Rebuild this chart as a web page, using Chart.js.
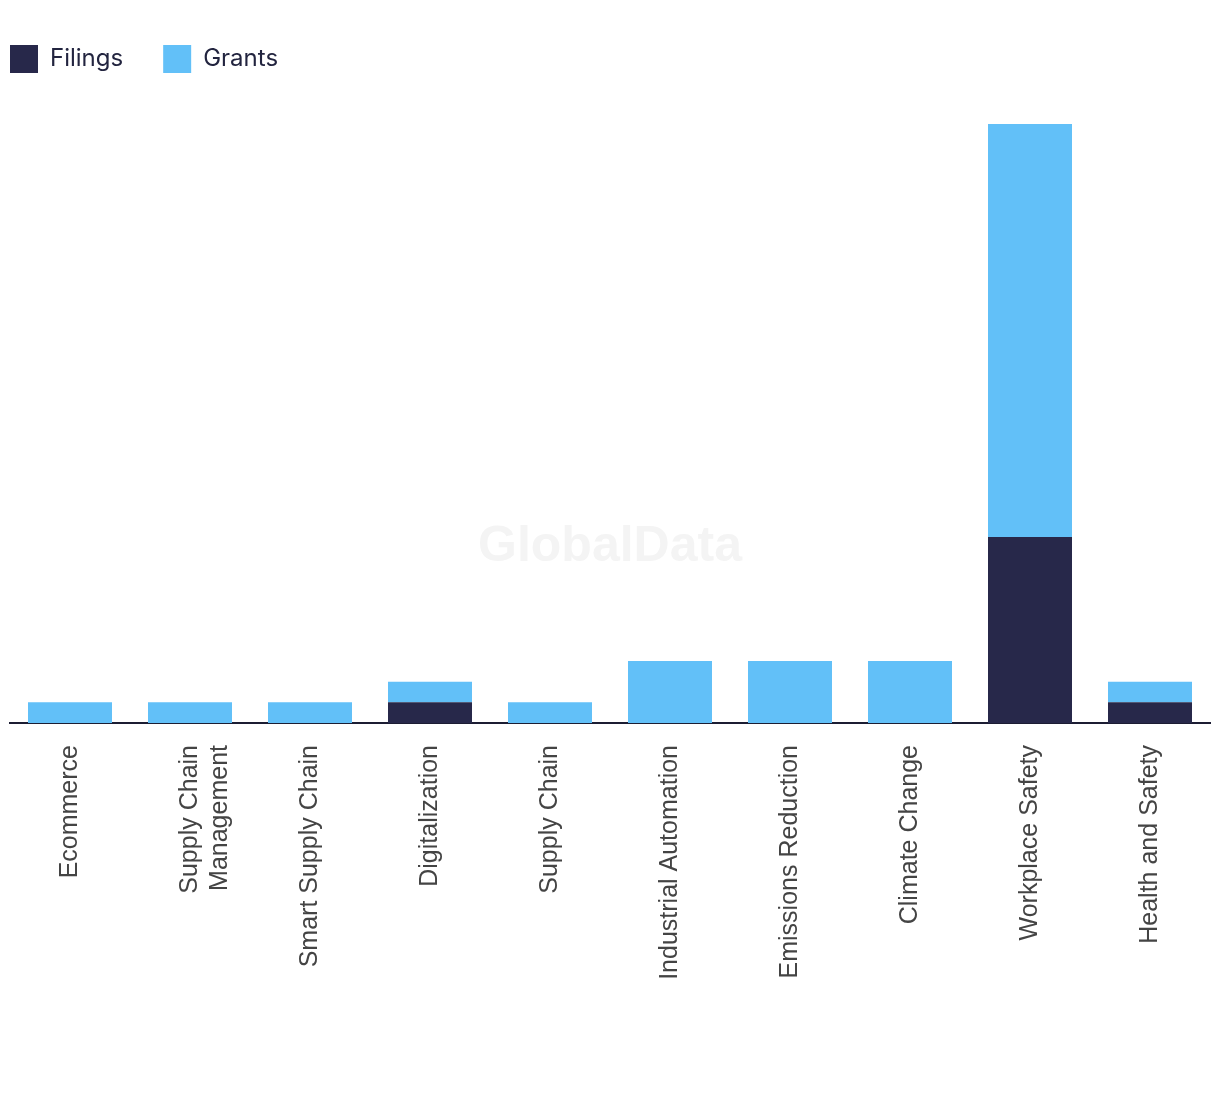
<!DOCTYPE html>
<html>
<head>
<meta charset="utf-8">
<script src="https://cdn.jsdelivr.net/npm/chart.js@4.4.1/dist/chart.umd.min.js"></script>
<style>
  html, body { margin: 0; padding: 0; background: #fff; }
  #wrap { width: 1220px; height: 1094px; position: relative; }
</style>
</head>
<body>
<div id="wrap"><canvas id="chart"></canvas></div>
<script>
const categories = [
    'Ecommerce',
    ['Supply Chain', 'Management'],
    'Smart Supply Chain',
    'Digitalization',
    'Supply Chain',
    'Industrial Automation',
    'Emissions Reduction',
    'Climate Change',
    'Workplace Safety',
    'Health and Safety'
];
const filings = [0, 0, 0, 1, 0, 0, 0, 0, 9, 1];
const grants = [1, 1, 1, 1, 1, 3, 3, 3, 20, 1];

const totals = filings.map((f, i) => f + grants[i]);
const yMax = Math.max(...totals);

const legendPad = 40;

// faint watermark behind the bars
const watermark = {
    id: 'watermark',
    beforeDatasetsDraw(chart) {
        const ctx = chart.ctx;
        ctx.save();
        ctx.font = 'bold 50px "Liberation Sans", Arial, sans-serif';
        ctx.fillStyle = '#f4f4f4';
        ctx.textAlign = 'center';
        ctx.textBaseline = 'middle';
        ctx.fillText('GlobalData', chart.width / 2, 547);
        ctx.restore();
    }
};

// fixed legend block height, and legend flush with the left edge
const legendFix = {
    id: 'legendFix',
    beforeInit(chart) {
        const fit = chart.legend.fit;
        chart.legend.fit = function () {
            fit.bind(chart.legend)();
            this.height = 124 - 5;
        };
    },
    afterLayout(chart) {
        chart.legend.left = 10 - legendPad;
    }
};

const ctx = document.getElementById('chart').getContext('2d');
const chart = new Chart(ctx, {
    type: 'bar',
    data: {
        labels: categories,
        datasets: [
            { label: 'Filings', data: filings, backgroundColor: '#27284a' },
            { label: 'Grants', data: grants, backgroundColor: '#62c0f8' }
        ]
    },
    options: {
        responsive: true,
        maintainAspectRatio: false,
        animation: false,
        layout: { padding: { top: 5, left: 10, right: 10, bottom: 0 } },
        datasets: {
            bar: { categoryPercentage: 0.7, barPercentage: 1 }
        },
        plugins: {
            legend: {
                position: 'top',
                align: 'start',
                labels: {
                    boxWidth: 28,
                    boxHeight: 28,
                    padding: legendPad,
                    color: '#22243f',
                    font: { family: 'Inter, "Liberation Sans", sans-serif', size: 24 }
                }
            },
            tooltip: { enabled: false }
        },
        scales: {
            x: {
                stacked: true,
                grid: { display: false },
                border: { display: true, color: '#1c1d33', width: 2 },
                ticks: {
                    minRotation: 90,
                    maxRotation: 90,
                    padding: 14,
                    color: '#444',
                    font: { family: '"Liberation Sans", Arial, sans-serif', size: 25 }
                },
                afterFit(scale) { scale.height = 371; }
            },
            y: {
                stacked: true,
                display: false,
                min: 0,
                max: yMax
            }
        }
    },
    plugins: [watermark, legendFix]
});
</script>
</body>
</html>
